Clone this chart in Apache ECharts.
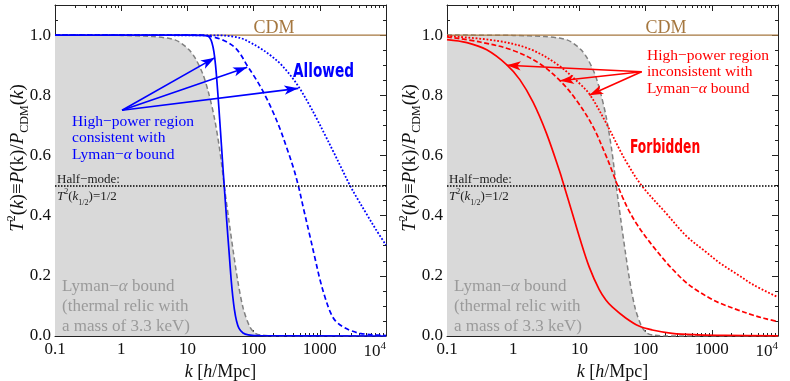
<!DOCTYPE html>
<html>
<head>
<meta charset="utf-8">
<script src="https://cdn.jsdelivr.net/npm/echarts@6/dist/echarts.min.js"></script>
<style>
  html, body { margin: 0; padding: 0; background: #fff; }
  #chart { width: 790px; height: 381px; }
</style>
</head>
<body>
<div id="chart"></div>
<script>
// Squared transfer functions T^2(k) = P(k)/P_CDM(k), sampled as [k in h/Mpc, T^2]
const kRange = [0.1, 10000];
const tRange = [0, 1.1];
const xTickLabels = ['0.1', '1', '10', '100', '1000', '{n|10}{sup|4}'];
const halfModeLevel = 0.5;

// thermal relic, m = 3.3 keV (Lyman-alpha bound)
const lymanBound = [[0.1,1],[1,0.999],[3,0.995],[5,0.99],[6.5,0.984],[8.2,0.972],[10.5,0.952],[13,0.925],[17,0.872],[20.5,0.815],[25.5,0.726],[31,0.614],[36,0.5],[42,0.39],[49,0.285],[58,0.18],[70,0.09],[88,0.03],[105,0.01],[130,0.003],[200,0],[10000,0]];
const cdm = [[0.1,1],[10000,1]];

// allowed models (left)
const blueSolid = [[0.1,1],[10,1],[16,0.999],[19.95,0.997],[21.88,0.99],[23.44,0.975],[25.12,0.945],[26.61,0.9],[28.18,0.835],[29.85,0.76],[31.62,0.68],[33.88,0.582],[35.97,0.5],[38.46,0.41],[40.74,0.335],[43.15,0.263],[45.71,0.19],[48.42,0.132],[51.29,0.088],[54.95,0.052],[60.26,0.025],[69.18,0.01],[83.18,0.004],[125.9,0.001],[10000,0]];
const blueDashed = [[0.1,1],[15.8,1],[25.1,0.993],[35.5,0.982],[50.1,0.962],[63.1,0.937],[79.4,0.9],[100,0.866],[125.9,0.83],[158.5,0.788],[199.5,0.741],[251,0.688],[316,0.626],[398,0.56],[473,0.5],[575,0.418],[711,0.331],[851,0.256],[1007,0.187],[1202,0.128],[1426,0.082],[1698,0.052],[2265,0.03],[3020,0.017],[4046,0.009],[6310,0.004],[10000,0.0015]];
const blueDotted = [[0.1,1],[30,0.999],[50,0.995],[70,0.987],[88,0.976],[125,0.957],[177,0.934],[250,0.906],[320,0.88],[400,0.853],[500,0.822],[700,0.767],[900,0.722],[1200,0.668],[1600,0.613],[2100,0.56],[2860,0.5],[3800,0.452],[5100,0.405],[7000,0.355],[10000,0.302]];

// forbidden models (right)
const redSolid = [[0.1,0.985],[0.2,0.975],[0.398,0.951],[0.794,0.902],[1.259,0.852],[1.995,0.777],[3.162,0.675],[5.012,0.548],[5.8,0.503],[7.94,0.403],[10,0.329],[14.1,0.229],[19.95,0.154],[25.1,0.12],[31.6,0.096],[50.1,0.06],[79.4,0.033],[126,0.02],[251,0.009],[631,0.004],[1585,0.002],[10000,0.0005]];
const redDashed = [[0.1,0.994],[0.316,0.977],[1,0.949],[2.51,0.905],[5.01,0.85],[8.91,0.785],[15.85,0.698],[25.1,0.6],[31.6,0.545],[37,0.505],[44.7,0.462],[56.2,0.416],[73.5,0.372],[100,0.33],[130.6,0.297],[199.5,0.248],[281.8,0.212],[418,0.176],[631,0.148],[1000,0.122],[1330,0.109],[2512,0.086],[4236,0.069],[6310,0.058],[10000,0.048]];
const redDotted = [[0.1,0.997],[0.57,0.981],[1.81,0.953],[4.6,0.903],[10.3,0.837],[14.6,0.8],[26,0.703],[41.5,0.615],[52,0.576],[87,0.5],[200,0.41],[418,0.331],[800,0.281],[1331,0.242],[2500,0.203],[4240,0.17],[10000,0.129]];

// annotation arrows: common tail, one head per curve
const blueArrowTail = [1.03, 0.75];
const blueArrowHeads = [[26, 0.925], [80, 0.893], [473, 0.823]];
const redArrowTail = [87, 0.878];
const redArrowHeads = [[0.8, 0.9], [5.1, 0.848], [14.1, 0.8]];

const SERIF = '"Liberation Serif", "DejaVu Serif", serif';
const HAND = '"Liberation Sans Narrow", "DejaVu Sans Condensed", sans-serif';
const BLUE = '#0000ff';
const RED = '#ff0000';
const BROWN = '#a5773f';
const GREY_LINE = '#808080';
const GREY_FILL = '#d9d9d9';
const GREY_TEXT = '#9a9a9a';

function xAxesFor(gi) {
  const base = {
    type: 'log', logBase: 10, gridIndex: gi, min: kRange[0], max: kRange[1],
    axisLine: { show: true, onZero: false, lineStyle: { color: '#222', width: 1 } },
    axisTick: { show: true, inside: true, length: 6, lineStyle: { color: '#222', width: 1 } },
    minorTick: { show: true, inside: true, splitNumber: 9, length: 3, lineStyle: { color: '#222', width: 1 } },
    splitLine: { show: false }, minorSplitLine: { show: false }
  };
  return [
    Object.assign({}, base, {
      position: 'bottom',
      axisLabel: {
        show: true, margin: 5, color: '#111', fontFamily: SERIF, fontSize: 17,
        alignMaxLabel: 'right',
        formatter: v => xTickLabels[Math.round(Math.log10(v)) + 1],
        rich: {
          n: { fontFamily: SERIF, fontSize: 17, color: '#111' },
          sup: { fontFamily: SERIF, fontSize: 11, color: '#111', verticalAlign: 'top', lineHeight: 22 }
        }
      }
    }),
    Object.assign({}, base, { position: 'top', axisLabel: { show: false } })
  ];
}

function yAxesFor(gi) {
  const common = {
    type: 'value', gridIndex: gi, min: tRange[0], max: tRange[1],
    splitLine: { show: false }
  };
  const major = (pos, labels) => Object.assign({}, common, {
    position: pos, interval: 0.2,
    axisLine: { show: true, onZero: false, lineStyle: { color: '#222', width: 1 } },
    axisTick: { show: true, inside: true, length: 6, lineStyle: { color: '#222' } },
    axisLabel: labels ? {
      show: true, margin: 4, color: '#111', fontFamily: SERIF, fontSize: 17,
      showMaxLabel: false, formatter: v => v.toFixed(1)
    } : { show: false }
  });
  const minor = pos => Object.assign({}, common, {
    position: pos, interval: 0.05,
    axisLine: { show: false },
    axisTick: { show: true, inside: true, length: 3, lineStyle: { color: '#222' } },
    axisLabel: { show: false }
  });
  return [major('left', true), minor('left'), major('right', false), minor('right')];
}

function curve(data, gi, color, dash, width) {
  return {
    type: 'line', xAxisIndex: gi * 2, yAxisIndex: gi * 4, data: data,
    showSymbol: false, smooth: 0.35, silent: true, z: 4,
    lineStyle: { color: color, width: width || 1.7, type: dash || 'solid' }
  };
}

function arrowLines(tail, heads, color) {
  return {
    silent: true, animation: false, label: { show: false },
    lineStyle: { color: color, width: 1.6, type: 'solid' },
    emphasis: { disabled: true },
    data: heads.map(h => [
      { coord: tail, symbol: 'none' },
      { coord: h, symbol: 'arrow', symbolSize: [7, 14] }
    ])
  };
}

function panelSeries(gi, lines, tail, heads, arrowColor) {
  const out = [];
  out.push({
    type: 'line', xAxisIndex: gi * 2, yAxisIndex: gi * 4, data: lymanBound,
    showSymbol: false, smooth: 0.3, silent: true, z: 2,
    lineStyle: { color: GREY_LINE, width: 1.5, type: [5, 3] },
    areaStyle: { color: GREY_FILL, opacity: 1 },
    markLine: {
      silent: true, animation: false, symbol: 'none', label: { show: false },
      lineStyle: { color: '#000', width: 1.5, type: [1.5, 1.5] },
      emphasis: { disabled: true },
      data: [{ yAxis: halfModeLevel }]
    }
  });
  out.push(Object.assign(curve(cdm, gi, BROWN, 'solid', 1.2), { z: 3 }));
  lines.forEach(l => out.push(curve(l[0], gi, l[1], l[2], l[3])));
  out.push({
    type: 'line', xAxisIndex: gi * 2, yAxisIndex: gi * 4, data: [], z: 6,
    markLine: arrowLines(tail, heads, arrowColor)
  });
  return out;
}

function mathRich(size, color) {
  const s = Math.round(size * 0.62);
  return {
    i: { fontFamily: SERIF, fontStyle: 'italic', fontSize: size, lineHeight: size + 6, fill: color },
    sup: { fontFamily: SERIF, fontSize: s, verticalAlign: 'top', lineHeight: size + 6, fill: color },
    sub: { fontFamily: SERIF, fontSize: s, verticalAlign: 'bottom', lineHeight: size + 3, fill: color }
  };
}

function textEl(x, y, text, opts) {
  return {
    type: 'text', x: x, y: y, rotation: opts.rotation || 0, scaleX: opts.scaleX || 1, silent: true, z: 50,
    style: Object.assign({
      text: text, align: opts.align || 'left', verticalAlign: 'middle',
      fill: opts.color || '#111', fontFamily: SERIF, fontSize: opts.size || 16,
      lineHeight: opts.lineHeight || 20
    }, opts.style || {})
  };
}

function panelText(dx) {
  return [
    textEl(18 + dx, 158, '{i|T}{sup|2}({i|k})≡{i|P}(k)/{i|P}{sub|CDM}({i|k})', {
      rotation: Math.PI / 2, align: 'center', size: 19, lineHeight: 25,
      style: { rich: mathRich(19, '#111') }
    }),
    textEl(220.5 + dx, 372, '{i|k} [{i|h}/Mpc]', { align: 'center', size: 18, style: { rich: mathRich(18, '#111') } }),
    textEl(274 + dx, 28, 'CDM', { align: 'center', size: 18, color: BROWN }),
    textEl(57 + dx, 180, 'Half−mode:', { size: 13, color: '#222', lineHeight: 16 }),
    textEl(57 + dx, 197, '{i|T}{sup|2}({i|k}{sub|1/2})=1/2', { size: 13, color: '#222', lineHeight: 17, style: { rich: mathRich(13, '#222') } }),
    textEl(62 + dx, 307, 'Lyman−{a|α} bound\n(thermal relic with\na mass of 3.3 keV)', {
      size: 17, color: GREY_TEXT, lineHeight: 20,
      style: { rich: { a: { fontFamily: SERIF, fontStyle: 'italic', fontSize: 17, fill: GREY_TEXT, lineHeight: 20 } } }
    })
  ];
}

const graphics = [].concat(
  panelText(0), panelText(392),
  [
    textEl(72, 138, 'High−power region\nconsistent with\nLyman−{a|α} bound', {
      size: 15.5, color: BLUE, lineHeight: 16.5,
      style: { rich: { a: { fontFamily: SERIF, fontStyle: 'italic', fontSize: 15.5, fill: BLUE, lineHeight: 16.5 } } }
    }),
    textEl(647, 72, 'High−power region\ninconsistent with\nLyman−{a|α} bound', {
      size: 15.5, color: RED, lineHeight: 16.5,
      style: { rich: { a: { fontFamily: SERIF, fontStyle: 'italic', fontSize: 15.5, fill: RED, lineHeight: 16.5 } } }
    }),
    textEl(293, 72, 'Allowed', { size: 19, color: BLUE, scaleX: 0.8, style: { fontFamily: HAND, fontWeight: 'bold' } }),
    textEl(630, 148, 'Forbidden', { size: 19, color: RED, scaleX: 0.72, style: { fontFamily: HAND, fontWeight: 'bold' } })
  ]
);

const chart = echarts.init(document.getElementById('chart'), null, { renderer: 'canvas' });
chart.setOption({
  animation: false,
  backgroundColor: '#fff',
  grid: [
    { left: 55, top: 5, width: 331, height: 331, containLabel: false },
    { left: 447, top: 5, width: 331, height: 331, containLabel: false }
  ],
  xAxis: [].concat(xAxesFor(0), xAxesFor(1)),
  yAxis: [].concat(yAxesFor(0), yAxesFor(1)),
  series: [].concat(
    panelSeries(0, [[blueSolid, BLUE, 'solid'], [blueDashed, BLUE, [5, 3]], [blueDotted, BLUE, [1.8, 1.8], 1.8]],
      blueArrowTail, blueArrowHeads, BLUE),
    panelSeries(1, [[redSolid, RED, 'solid'], [redDashed, RED, [5, 2.5]], [redDotted, RED, [1.8, 1.8], 1.8]],
      redArrowTail, redArrowHeads, RED)
  ),
  graphic: graphics
});
</script>
</body>
</html>
